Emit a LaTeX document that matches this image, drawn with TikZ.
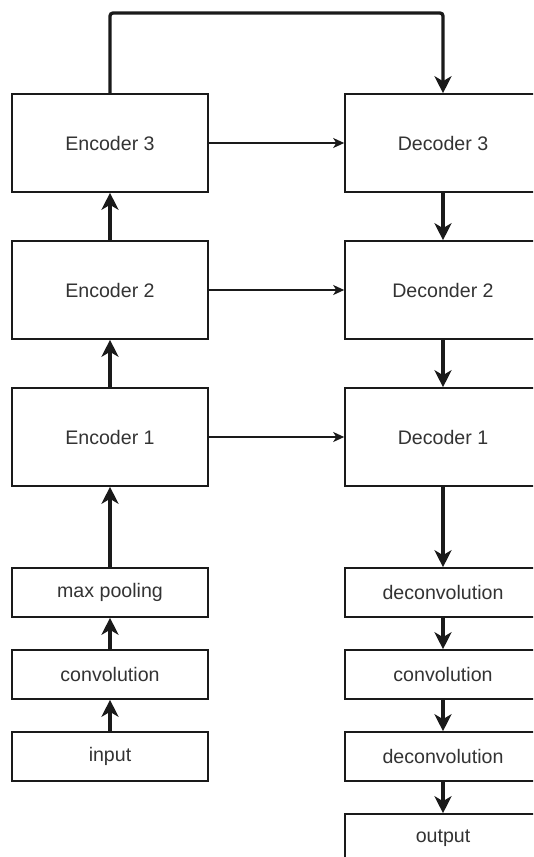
\documentclass[tikz,border=0pt]{standalone}
\usepackage{fontspec}
\setmainfont{Liberation Sans}
\usetikzlibrary{arrows.meta}
\definecolor{txt}{HTML}{333333}
\definecolor{ln}{HTML}{1A1A1A}
\tikzset{
  big/.style={draw=ln, line width=1.6pt, minimum width=196pt, minimum height=98pt, inner sep=0pt, text=txt, font=\fontsize{19.6pt}{22pt}\selectfont},
  small/.style={big, minimum height=49pt},
  thickarrow/.style={draw=ln, line width=3.3pt, -{Stealth[length=17pt,width=17pt,inset=5pt]}},
  thinarrow/.style={draw=ln, line width=1.6pt, -{Stealth[length=11pt,width=10pt,inset=3pt]}}
}
\begin{document}
\begin{tikzpicture}[x=1pt,y=-1pt]
\useasboundingbox (0,0) rectangle (533,857);
\clip (0,0) rectangle (533,857);
% left column
\node[big]   (e3)  at (110,143)   {Encoder 3};
\node[big]   (e2)  at (110,290)   {Encoder 2};
\node[big]   (e1)  at (110,437)   {Encoder 1};
\node[small] (mp)  at (110,592.5) {max pooling};
\node[small] (cv1) at (110,674.5) {convolution};
\node[small] (in)  at (110,756.5) {input};
% right column
\node[big]   (d3)  at (443,143)   {Decoder 3};
\node[big]   (d2)  at (443,290)   {Deconder 2};
\node[big]   (d1)  at (443,437)   {Decoder 1};
\node[small] (dc1) at (443,592.5) {deconvolution};
\node[small] (cv2) at (443,674.5) {convolution};
\node[small] (dc2) at (443,756.5) {deconvolution};
\node[small] (out) at (443,838.5) {output};
\coordinate (top) at (0,13);
% connectors
\draw[thickarrow] (in) -- (cv1);
\draw[thickarrow] (cv1) -- (mp);
\draw[thickarrow] (mp) -- (e1);
\draw[thickarrow] (e1) -- (e2);
\draw[thickarrow] (e2) -- (e3);
\draw[thickarrow, rounded corners=3pt] (e3.north) -- (e3.north |- top) -| (d3.north);
\draw[thickarrow] (d3) -- (d2);
\draw[thickarrow] (d2) -- (d1);
\draw[thickarrow] (d1) -- (dc1);
\draw[thickarrow] (dc1) -- (cv2);
\draw[thickarrow] (cv2) -- (dc2);
\draw[thickarrow] (dc2) -- (out);
\draw[thinarrow] (e3) -- (d3);
\draw[thinarrow] (e2) -- (d2);
\draw[thinarrow] (e1) -- (d1);
\end{tikzpicture}
\end{document}
